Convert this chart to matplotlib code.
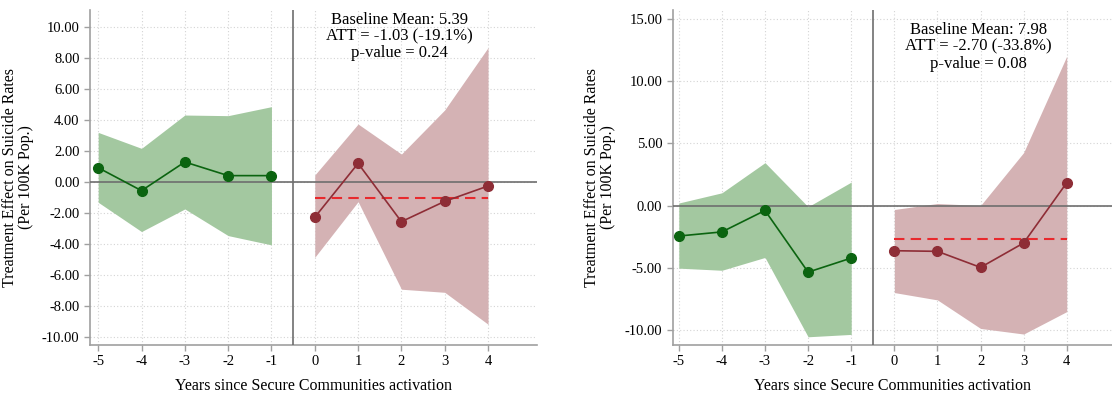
import matplotlib
matplotlib.use("Agg")
import matplotlib.pyplot as plt
import numpy as np

plt.rcParams['font.family'] = ['Liberation Serif', 'DejaVu Serif']

# ---- data ----
pre_years = [-5, -4, -3, -2, -1]
post_years = [0, 1, 2, 3, 4]

# Left panel
l_pre_est = [0.92, -0.56, 1.29, 0.41, 0.41]
l_pre_lo = [-1.31, -3.20, -1.74, -3.46, -4.06]
l_pre_hi = [3.20, 2.17, 4.32, 4.28, 4.86]
l_post_est = [-2.28, 1.20, -2.56, -1.25, -0.26]
l_post_lo = [-4.86, -1.27, -6.92, -7.12, -9.18]
l_post_hi = [0.45, 3.74, 1.80, 4.65, 8.67]
l_att = -1.03
l_text = "Baseline Mean: 5.39\nATT = -1.03 (-19.1%)\np-value = 0.24"
l_yticks = [-10, -8, -6, -4, -2, 0, 2, 4, 6, 8, 10]

# Right panel
r_pre_est = [-2.45, -2.12, -0.40, -5.35, -4.22]
r_pre_lo = [-5.03, -5.20, -4.17, -10.54, -10.35]
r_pre_hi = [0.20, 1.02, 3.44, -0.10, 1.88]
r_post_est = [-3.63, -3.68, -4.97, -3.01, 1.83]
r_post_lo = [-6.99, -7.58, -9.87, -10.32, -8.52]
r_post_hi = [-0.32, 0.16, 0.00, 4.25, 11.99]
r_att = -2.70
r_text = "Baseline Mean: 7.98\nATT = -2.70 (-33.8%)\np-value = 0.08"
r_yticks = [-10, -5, 0, 5, 10, 15]

xticks = pre_years + post_years
xlabel = "Years since Secure Communities activation"
ylabel = "Treatment Effect on Suicide Rates\n(Per 100K Pop.)"

GREEN_FILL = "#a3c8a0"
GREEN = "#0b6410"
RED_FILL = "#d4b2b4"
RED = "#8e2d36"
DASH = "#e8292d"
SPINE = "#a0a0a0"
REF = "#6e6e6e"

fig = plt.figure(figsize=(11.12, 3.96), dpi=100)
axL = fig.add_axes([0.0809, 0.1288, 0.4020, 0.8460])
axR = fig.add_axes([0.6050, 0.1288, 0.3950, 0.8460])


def draw(ax, pre_est, pre_lo, pre_hi, post_est, post_lo, post_hi, att, txt,
         yticks, ylim, xlim, txt_y):
    ax.set_xlim(*xlim)
    ax.set_ylim(*ylim)
    ax.set_yticks(yticks)
    ax.set_yticklabels([f"{v:.2f}" for v in yticks])
    ax.set_xticks(xticks)
    ax.set_xticklabels([str(v) for v in xticks])
    ax.grid(True, linestyle=(0, (1, 2)), color="#d4d4d4", linewidth=0.8)
    ax.set_axisbelow(True)
    for s in ["top", "right"]:
        ax.spines[s].set_visible(False)
    for s in ["left", "bottom"]:
        ax.spines[s].set_color(SPINE)
        ax.spines[s].set_linewidth(1.2)
    ax.tick_params(axis="both", colors=SPINE, length=4, width=1,
                   labelcolor="black", labelsize=10.5)

    ax.fill_between(pre_years, pre_lo, pre_hi, color=GREEN_FILL, lw=0, zorder=2)
    ax.fill_between(post_years, post_lo, post_hi, color=RED_FILL, lw=0, zorder=2)
    ax.axhline(0, color=REF, lw=1.2, zorder=3)
    ax.axvline(-0.5, color=REF, lw=1.2, zorder=3)
    ax.plot(post_years, [att] * len(post_years), color=DASH, lw=1.5,
            linestyle=(0, (5, 3)), zorder=4)
    ax.plot(pre_years, pre_est, color=GREEN, lw=1.2, marker="o", ms=7, zorder=5)
    ax.plot(post_years, post_est, color=RED, lw=1.2, marker="o", ms=7, zorder=5)

    ax.text(1.95, txt_y, txt, ha="center", va="top", fontsize=12,
            linespacing=1.08, zorder=6)
    ax.set_xlabel(xlabel, fontsize=11.5, labelpad=7)
    ax.set_ylabel(ylabel, fontsize=11.5, labelpad=6, linespacing=1.0)


draw(axL, l_pre_est, l_pre_lo, l_pre_hi, l_post_est, l_post_lo, l_post_hi,
     l_att, l_text, l_yticks, (-10.52, 11.1), (-5.19, 5.13), 11.0)
draw(axR, r_pre_est, r_pre_lo, r_pre_hi, r_post_est, r_post_lo, r_post_hi,
     r_att, r_text, r_yticks, (-11.2, 15.7), (-5.14, 5.05), 14.75)

fig.savefig("out.png", dpi=100)
